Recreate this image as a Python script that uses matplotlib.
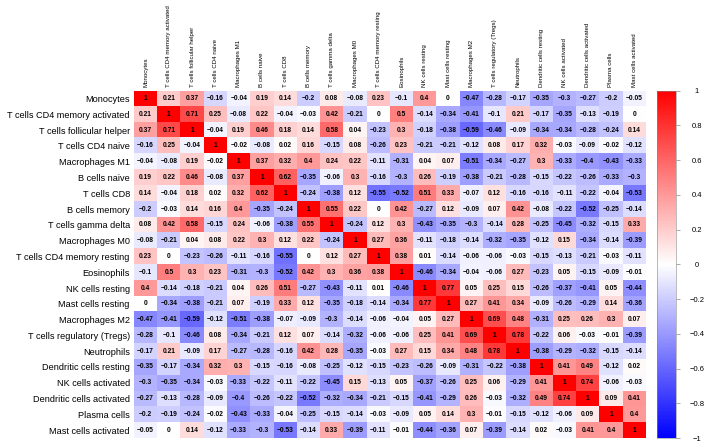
import matplotlib
matplotlib.use("Agg")
import matplotlib.pyplot as plt
import numpy as np

# immune cell correlation matrix
cells = ["Monocytes", "T cells CD4 memory activated", "T cells follicular helper",
         "T cells CD4 naive", "Macrophages M1", "B cells naive", "T cells CD8",
         "B cells memory", "T cells gamma delta", "Macrophages M0",
         "T cells CD4 memory resting", "Eosinophils", "NK cells resting",
         "Mast cells resting", "Macrophages M2", "T cells regulatory (Tregs)",
         "Neutrophils", "Dendritic cells resting", "NK cells activated",
         "Dendritic cells activated", "Plasma cells", "Mast cells activated"]

corr = [
    [1, 0.21, 0.37, -0.16, -0.04, 0.19, 0.14, -0.2, 0.08, -0.08, 0.23, -0.1, 0.4, 0, -0.47, -0.28, -0.17, -0.35, -0.3, -0.27, -0.2, -0.05],
    [0.21, 1, 0.71, 0.25, -0.08, 0.22, -0.04, -0.03, 0.42, -0.21, 0, 0.5, -0.14, -0.34, -0.41, -0.1, 0.21, -0.17, -0.35, -0.13, -0.19, 0],
    [0.37, 0.71, 1, -0.04, 0.19, 0.46, 0.18, 0.14, 0.58, 0.04, -0.23, 0.3, -0.18, -0.38, -0.59, -0.46, -0.09, -0.34, -0.34, -0.28, -0.24, 0.14],
    [-0.16, 0.25, -0.04, 1, -0.02, -0.08, 0.02, 0.16, -0.15, 0.08, -0.26, 0.23, -0.21, -0.21, -0.12, 0.08, 0.17, 0.32, -0.03, -0.09, -0.02, -0.12],
    [-0.04, -0.08, 0.19, -0.02, 1, 0.37, 0.32, 0.4, 0.24, 0.22, -0.11, -0.31, 0.04, 0.07, -0.51, -0.34, -0.27, 0.3, -0.33, -0.4, -0.43, -0.33],
    [0.19, 0.22, 0.46, -0.08, 0.37, 1, 0.62, -0.35, -0.06, 0.3, -0.16, -0.3, 0.26, -0.19, -0.38, -0.21, -0.28, -0.15, -0.22, -0.26, -0.33, -0.3],
    [0.14, -0.04, 0.18, 0.02, 0.32, 0.62, 1, -0.24, -0.38, 0.12, -0.55, -0.52, 0.51, 0.33, -0.07, 0.12, -0.16, -0.16, -0.11, -0.22, -0.04, -0.53],
    [-0.2, -0.03, 0.14, 0.16, 0.4, -0.35, -0.24, 1, 0.55, 0.22, 0, 0.42, -0.27, 0.12, -0.09, 0.07, 0.42, -0.08, -0.22, -0.52, -0.25, -0.14],
    [0.08, 0.42, 0.58, -0.15, 0.24, -0.06, -0.38, 0.55, 1, -0.24, 0.12, 0.3, -0.43, -0.35, -0.3, -0.14, 0.28, -0.25, -0.45, -0.32, -0.15, 0.33],
    [-0.08, -0.21, 0.04, 0.08, 0.22, 0.3, 0.12, 0.22, -0.24, 1, 0.27, 0.36, -0.11, -0.18, -0.14, -0.32, -0.35, -0.12, 0.15, -0.34, -0.14, -0.39],
    [0.23, 0, -0.23, -0.26, -0.11, -0.16, -0.55, 0, 0.12, 0.27, 1, 0.38, 0.01, -0.14, -0.06, -0.06, -0.03, -0.15, -0.13, -0.21, -0.03, -0.11],
    [-0.1, 0.5, 0.3, 0.23, -0.31, -0.3, -0.52, 0.42, 0.3, 0.36, 0.38, 1, -0.46, -0.34, -0.04, -0.06, 0.27, -0.23, 0.05, -0.15, -0.09, -0.01],
    [0.4, -0.14, -0.18, -0.21, 0.04, 0.26, 0.51, -0.27, -0.43, -0.11, 0.01, -0.46, 1, 0.77, 0.05, 0.25, 0.15, -0.26, -0.37, -0.41, 0.05, -0.44],
    [0, -0.34, -0.38, -0.21, 0.07, -0.19, 0.33, 0.12, -0.35, -0.18, -0.14, -0.34, 0.77, 1, 0.27, 0.41, 0.34, -0.09, -0.26, -0.29, 0.14, -0.36],
    [-0.47, -0.41, -0.59, -0.12, -0.51, -0.38, -0.07, -0.09, -0.3, -0.14, -0.06, -0.04, 0.05, 0.27, 1, 0.69, 0.48, -0.31, 0.25, 0.26, 0.3, 0.07],
    [-0.28, -0.1, -0.46, 0.08, -0.34, -0.21, 0.12, 0.07, -0.14, -0.32, -0.06, -0.06, 0.25, 0.41, 0.69, 1, 0.78, -0.22, 0.06, -0.03, -0.01, -0.39],
    [-0.17, 0.21, -0.09, 0.17, -0.27, -0.28, -0.16, 0.42, 0.28, -0.35, -0.03, 0.27, 0.15, 0.34, 0.48, 0.78, 1, -0.38, -0.29, -0.32, -0.15, -0.14],
    [-0.35, -0.17, -0.34, 0.32, 0.3, -0.15, -0.16, -0.08, -0.25, -0.12, -0.15, -0.23, -0.26, -0.09, -0.31, -0.22, -0.38, 1, 0.41, 0.49, -0.12, 0.02],
    [-0.3, -0.35, -0.34, -0.03, -0.33, -0.22, -0.11, -0.22, -0.45, 0.15, -0.13, 0.05, -0.37, -0.26, 0.25, 0.06, -0.29, 0.41, 1, 0.74, -0.06, -0.03],
    [-0.27, -0.13, -0.28, -0.09, -0.4, -0.26, -0.22, -0.52, -0.32, -0.34, -0.21, -0.15, -0.41, -0.29, 0.26, -0.03, -0.32, 0.49, 0.74, 1, 0.09, 0.41],
    [-0.2, -0.19, -0.24, -0.02, -0.43, -0.33, -0.04, -0.25, -0.15, -0.14, -0.03, -0.09, 0.05, 0.14, 0.3, -0.01, -0.15, -0.12, -0.06, 0.09, 1, 0.4],
    [-0.05, 0, 0.14, -0.12, -0.33, -0.3, -0.53, -0.14, 0.33, -0.39, -0.11, -0.01, -0.44, -0.36, 0.07, -0.39, -0.14, 0.02, -0.03, 0.41, 0.4, 1],
]

cbar_ticks = [-1, -0.8, -0.6, -0.4, -0.2, 0, 0.2, 0.4, 0.6, 0.8, 1]

mat = np.array(corr)
n = len(cells)

fig = plt.figure(figsize=(7.09, 4.42), dpi=100)
ax = fig.add_axes([0.189, 0.009, 0.722, 0.786])
cax = fig.add_axes([0.9267, 0.009, 0.0268, 0.786])

im = ax.imshow(mat, cmap="bwr", vmin=-1, vmax=1, aspect="auto", interpolation="nearest")

for i in range(n):
    for j in range(n):
        txt = f"{mat[i, j]:g}".replace("-", "\u2212")
        ax.text(j, i, txt, ha="center", va="center", fontsize=4.8,
                fontweight="bold", family=["Liberation Sans", "DejaVu Sans"], color="black")

ax.set_xticks(range(n))
ax.set_yticks(range(n))
ax.set_yticklabels(cells, fontsize=6.6, family=["Liberation Sans", "DejaVu Sans"])
ax.xaxis.tick_top()
ax.set_xticklabels(cells, rotation=90, fontsize=4.4,
                   family=["Liberation Sans", "DejaVu Sans"])
ax.tick_params(axis="y", length=0, pad=3)
ax.tick_params(axis="x", length=0, pad=2.5)
for s in ax.spines.values():
    s.set_visible(False)

cb = fig.colorbar(im, cax=cax, ticks=cbar_ticks)
cb.outline.set_linewidth(0.4)
cb.outline.set_edgecolor("#888888")
cax.tick_params(length=3, width=0.5, color="#888888", pad=12)
cax.set_yticklabels([f"{t:g}".replace("-", "\u2212") for t in cbar_ticks],
                    fontsize=5.5, family=["Liberation Sans", "DejaVu Sans"])
for lab in cax.get_yticklabels():
    lab.set_horizontalalignment("center")

fig.savefig("out.png", dpi=100)
